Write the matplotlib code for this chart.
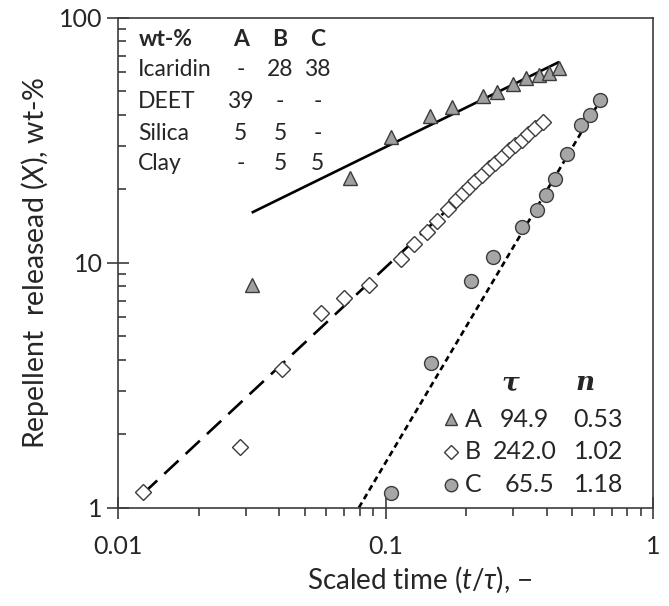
import matplotlib
matplotlib.use("Agg")
import matplotlib.pyplot as plt
from matplotlib.ticker import LogLocator, NullFormatter, FixedLocator, FixedFormatter

plt.rcParams['font.family'] = ['Lato', 'DejaVu Sans']
plt.rcParams['mathtext.fontset'] = 'custom'
plt.rcParams['mathtext.it'] = 'Lato:italic'
plt.rcParams['mathtext.rm'] = 'Lato'
plt.rcParams['lines.scale_dashes'] = False

# ---------------- data ----------------
a_x = [0.0316, 0.0738, 0.105, 0.147, 0.178, 0.231, 0.262, 0.300, 0.335, 0.375, 0.409, 0.446]
a_y = [8.1, 22.1, 32.5, 39.7, 43.3, 47.9, 49.9, 53.6, 56.6, 58.4, 59.6, 62.2]

b_x = [0.0124, 0.0287, 0.0412, 0.0575, 0.0697, 0.0866, 0.1144, 0.1283, 0.1426, 0.1557,
       0.1718, 0.1841, 0.1954, 0.2058, 0.2167, 0.2301, 0.2444, 0.2573, 0.2733, 0.2902,
       0.3056, 0.3245, 0.3417, 0.3628, 0.3887]
b_y = [1.16, 1.77, 3.69, 6.22, 7.15, 8.11, 10.33, 11.92, 13.38, 14.73,
       16.56, 18.03, 19.25, 20.37, 21.55, 22.80, 24.24, 25.53, 27.01, 28.71,
       30.09, 31.68, 33.52, 35.30, 37.52]

c_x = [0.105, 0.148, 0.209, 0.253, 0.324, 0.367, 0.398, 0.431, 0.476, 0.537, 0.582, 0.634]
c_y = [1.145, 3.89, 8.44, 10.58, 14.03, 16.41, 18.9, 21.96, 27.78, 36.5, 40.1, 46.1]

# fitted lines (end points)
fit_a_x = [0.0316, 0.446]
fit_a_y = [16.0, 66.0]
fit_b_x = [0.0124, 0.39]
fit_b_y = [1.14, 38.3]
fit_c_x = [0.0795, 0.620]
fit_c_y = [1.0, 44.0]

# composition table
table_header = ["wt-%", "A", "B", "C"]
table_rows = [["Icaridin", "-", "28", "38"],
              ["DEET", "39", "-", "-"],
              ["Silica", "5", "5", "-"],
              ["Clay", "-", "5", "5"]]

# fit parameter table
samples = ["A", "B", "C"]
tau_vals = ["94.9", "242.0", "65.5"]
n_vals = ["0.53", "1.02", "1.18"]

x_ticks = [0.01, 0.1, 1]
x_ticklabels = ["0.01", "0.1", "1"]
y_ticks = [1, 10, 100]
y_ticklabels = ["1", "10", "100"]

# ---------------- figure ----------------
W, H = 669, 606
fig = plt.figure(figsize=(W / 100, H / 100), dpi=100)
L, R, T, B = 118, 653, 17.7, 507.7
ax = fig.add_axes([L / W, 1 - B / H, (R - L) / W, (B - T) / H])
ax.set_xscale('log')
ax.set_yscale('log')
ax.set_xlim(0.01, 1)
ax.set_ylim(1, 100)

edge = '#3c3c3c'
txt = '#262626'
for s in ax.spines.values():
    s.set_color(edge)
    s.set_linewidth(1.2)

ax.xaxis.set_major_locator(FixedLocator(x_ticks))
ax.xaxis.set_major_formatter(FixedFormatter(x_ticklabels))
ax.yaxis.set_major_locator(FixedLocator(y_ticks))
ax.yaxis.set_major_formatter(FixedFormatter(y_ticklabels))
ax.xaxis.set_minor_locator(LogLocator(base=10, subs=range(2, 10)))
ax.yaxis.set_minor_locator(LogLocator(base=10, subs=range(2, 10)))
ax.xaxis.set_minor_formatter(NullFormatter())
ax.yaxis.set_minor_formatter(NullFormatter())
ax.tick_params(axis='both', which='major', direction='inout', length=16, width=1.2,
               color=edge, labelsize=18, labelcolor=txt)
ax.tick_params(axis='x', which='major', pad=12)
ax.tick_params(axis='y', which='major', pad=3)
ax.tick_params(axis='x', which='minor', direction='out', length=6, width=1.2, color=edge)
ax.tick_params(axis='y', which='minor', direction='in', length=6, width=1.2, color=edge)

# fitted lines
ax.plot(fit_a_x, fit_a_y, color='black', lw=1.9, solid_capstyle='butt', zorder=2)
ax.plot(fit_b_x, fit_b_y, color='black', lw=1.9, dashes=(14, 7), dash_capstyle='butt', zorder=2)
ax.plot(fit_c_x, fit_c_y, color='black', lw=1.9, dashes=(4.3, 2.9), dash_capstyle='butt', zorder=2)

# data points
ax.plot(a_x, a_y, linestyle='none', marker='^', ms=10, mfc='#a0a0a0', mec=edge, mew=1.0, zorder=3)
ax.plot(b_x, b_y, linestyle='none', marker='D', ms=8, mfc='white', mec=edge, mew=1.0, zorder=3)
ax.plot(c_x, c_y, linestyle='none', marker='o', ms=10, mfc='#a6a6a6', mec=edge, mew=1.0, zorder=3)

ax.set_xlabel(r"Scaled time ($t/\tau$), −", fontsize=20, color=txt, va='center')
ax.set_ylabel(r"Repellent  releasead ($X$), wt-%", fontsize=20.5, color=txt, va='center')
ax.xaxis.set_label_coords((420 - L) / (R - L), (B - 580) / (B - T))
ax.yaxis.set_label_coords((35 - L) / (R - L), 0.5)


def fp(x, y):
    return (x / W, 1 - y / H)


# composition table
col_x = [240.7, 280, 317.7]
row_y = [70, 101.7, 133.3, 163.3]
fig.text(*fp(138.3, 40), table_header[0], fontsize=16.5, fontweight='bold', color=txt,
         ha='left', va='center')
for cx, h in zip(col_x, table_header[1:]):
    fig.text(*fp(cx, 40), h, fontsize=16.5, fontweight='bold', color=txt, ha='center', va='center')
for ry, row in zip(row_y, table_rows):
    fig.text(*fp(138.3, ry), row[0], fontsize=16.5, color=txt, ha='left', va='center')
    for cx, v in zip(col_x, row[1:]):
        fig.text(*fp(cx, ry), v, fontsize=16.5, color=txt, ha='center', va='center')

# fit parameter table
fig.text(*fp(510, 383), r"τ", fontsize=19, fontweight='bold', style='italic',
         family='DejaVu Serif', color=txt, ha='center', va='center')
fig.text(*fp(585, 383), r"n", fontsize=19, fontweight='bold', style='italic',
         family='DejaVu Serif', color=txt, ha='center', va='center')
leg_y = [419.3, 451.7, 485]
leg_marker = [dict(marker='^', ms=8, mfc='#a0a0a0'),
              dict(marker='D', ms=7, mfc='white'),
              dict(marker='o', ms=9, mfc='#a6a6a6')]
tau_x = [524, 525.3, 529.7]
for ly, s, t, n, mk, tx in zip(leg_y, samples, tau_vals, n_vals, leg_marker, tau_x):
    mx, my = fp(450.7, ly)
    fig.lines.append(plt.Line2D([mx], [my], transform=fig.transFigure, linestyle='none',
                                mec=edge, mew=1.0, **mk))
    fig.text(*fp(473, ly), s, fontsize=18, color=txt, ha='center', va='center')
    fig.text(*fp(tx, ly), t, fontsize=18, color=txt, ha='center', va='center')
    fig.text(*fp(598.3, ly), n, fontsize=18, color=txt, ha='center', va='center')

fig.savefig("out.png", dpi=100)
